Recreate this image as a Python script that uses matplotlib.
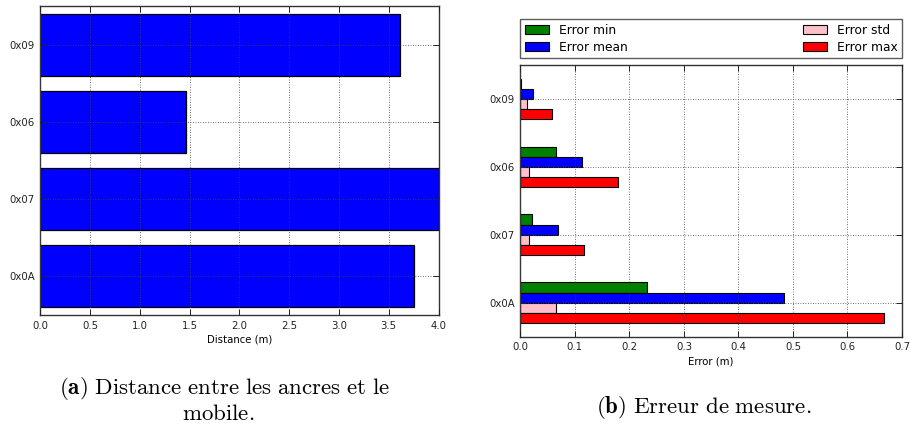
import matplotlib
matplotlib.use("Agg")
import matplotlib.pyplot as plt
import numpy as np

# Anchors, listed bottom to top
anchors = ["0x0A", "0x07", "0x06", "0x09"]

# Distance between each anchor and the mobile (m)
distance = [3.75, 4.0, 1.46, 3.61]

# Measurement error statistics per anchor (m)
err_min = [0.232, 0.022, 0.065, 0.002]
err_mean = [0.483, 0.069, 0.114, 0.024]
err_std = [0.065, 0.0165, 0.0165, 0.013]
err_max = [0.667, 0.116, 0.179, 0.059]

dist_ticks = [0.0, 0.5, 1.0, 1.5, 2.0, 2.5, 3.0, 3.5, 4.0]
err_ticks = [0.0, 0.1, 0.2, 0.3, 0.4, 0.5, 0.6, 0.7]

plt.rcParams["font.family"] = ["DejaVu Sans"]
plt.rcParams["mathtext.fontset"] = "cm"

W, H = 911, 429
fig = plt.figure(figsize=(W / 100, H / 100), dpi=100)


def px_axes(x0, y0, x1, y1):
    return fig.add_axes([x0 / W, 1 - y1 / H, (x1 - x0) / W, (y1 - y0) / H])


def style_axes(ax):
    ax.grid(True, color="#444444", linestyle=(0, (1, 2)), linewidth=0.6)
    ax.set_axisbelow(False)
    ax.tick_params(direction="in", length=4, width=0.7, top=True, right=True,
                   labelsize=7.3, colors="#222222", pad=4)
    for sp in ax.spines.values():
        sp.set_linewidth(1.0)
        sp.set_color("#333333")


ypos = np.arange(len(anchors))

# (a) distance per anchor
ax1 = px_axes(40.3, 6, 438.5, 315)
ax1.barh(ypos, distance, height=0.8, color="#0000ff", edgecolor="k", linewidth=0.9)
ax1.set_xlim(0, 4.0)
ax1.set_ylim(-0.5, 3.5)
ax1.set_xticks(dist_ticks)
ax1.set_xticklabels([f"{t:.1f}" for t in dist_ticks])
ax1.set_yticks(ypos)
ax1.set_yticklabels(anchors)
ax1.set_xlabel("Distance (m)", fontsize=7.3, labelpad=3)
style_axes(ax1)

# (b) error statistics per anchor
ax2 = px_axes(520.3, 65, 902, 336.7)
h = 0.15
series = [
    (err_min, "#008000", "Error min", 1.5 * h),
    (err_mean, "#0000ff", "Error mean", 0.5 * h),
    (err_std, "#ffc0cb", "Error std", -0.5 * h),
    (err_max, "#ff0000", "Error max", -1.5 * h),
]
for vals, col, lab, off in series:
    ax2.barh(ypos + off, vals, height=h, color=col, edgecolor="k",
             linewidth=0.8, label=lab)
ax2.set_xlim(0, 0.7)
ax2.set_ylim(-0.5, 3.5)
ax2.set_xticks(err_ticks)
ax2.set_xticklabels([f"{t:.1f}" for t in err_ticks])
ax2.set_yticks(ypos)
ax2.set_yticklabels(anchors)
ax2.set_xlabel("Error (m)", fontsize=7.3, labelpad=3)
style_axes(ax2)

leg = ax2.legend(loc="lower left", bbox_to_anchor=(0, 1 + 6.7 / 271.7, 1, 0.1),
                 mode="expand", ncol=2, borderaxespad=0, fontsize=8.8,
                 fancybox=False, handlelength=2.0, handleheight=0.8,
                 labelspacing=0.35, borderpad=0.35, handletextpad=0.8)
leg.get_frame().set_edgecolor("#333333")
leg.get_frame().set_linewidth(1.0)

# Sub-figure captions
cap = dict(fontsize=16.5, ha="center", va="baseline", color="k")
fig.text(225 / W, 1 - 394 / H,
         r"$\mathbf{(a)}\ \mathrm{Distance\ entre\ les\ ancres\ et\ le}$", **cap)
fig.text(218 / W, 1 - 420 / H, r"$\mathrm{mobile.}$", **cap)
fig.text(704 / W, 1 - 413 / H, r"$\mathbf{(b)}\ \mathrm{Erreur\ de\ mesure.}$", **cap)

fig.savefig("out.png", dpi=100)
